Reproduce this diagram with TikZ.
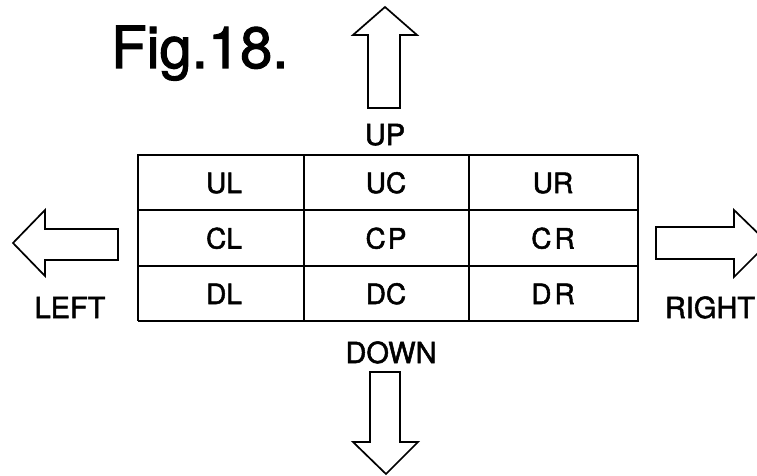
\documentclass[tikz,border=0pt]{standalone}
\usepackage{fontspec}
\setmainfont{TeX Gyre Heros}[FakeBold=1.8]
\begin{document}
\begin{tikzpicture}[x=1pt,y=-1pt,
  blockarrow/.style={draw=black,line width=1.7pt,line join=miter,fill=white},
  grid/.style={draw=black,line width=1.8pt},
  outer/.style={draw=black,line width=2.5pt},
  celltext/.style={font=\fontsize{28}{28}\selectfont,inner sep=0pt,anchor=base},
  dirlabel/.style={font=\fontsize{29}{29}\selectfont,inner sep=0pt,anchor=base}]
\useasboundingbox (0,0) rectangle (757,476);
\clip (0,0) rectangle (757,476);
% title
\node[font=\fontsize{58}{58}\selectfont,inner sep=0pt,anchor=base west] (title) at (111,68) {Fig.18.};
% table
\draw[grid] (138,210) -- (638,210);
\draw[grid] (138,266) -- (638,266);
\draw[grid] (304,155) -- (304,321);
\draw[grid] (469,155) -- (469,321);
\draw[grid,line width=1.5pt] (638,155) -- (138,155) -- (138,321);
\draw[outer] (138,321) -- (638,321) -- (638,155);
% cell texts
\node[celltext] (UL) at (224,193) {UL};
\node[celltext] (UC) at (386,193) {UC};
\node[celltext] (UR) at (553,193) {UR};
\node[celltext] (CL) at (224,248.5) {CL};
\node[celltext] (CP) at (386,248.5) {C\kern2ptP};
\node[celltext] (CR) at (553,248.5) {C\kern3ptR};
\node[celltext] (DL) at (224,304) {DL};
\node[celltext] (DC) at (386,304) {DC};
\node[celltext] (DR) at (553,304) {D\kern3ptR};
% labels
\node[dirlabel] (up) at (385,145) {UP};
\node[dirlabel] (down) at (391,363) {DOWN};
\node[dirlabel] (left) at (70,318) {LEFT};
\node[dirlabel] (right) at (710,318) {RIGHT};
% arrows
\draw[blockarrow] (368,108) -- (368,35) -- (353,35) -- (385,7) -- (417,35) -- (400,35) -- (400,108) -- cycle;
\draw[blockarrow] (370,372) -- (370,442) -- (353,442) -- (386,474) -- (418,442) -- (400,442) -- (400,372) -- cycle;
\draw[blockarrow] (118,229) -- (45,229) -- (45,210) -- (13,243) -- (45,276) -- (45,260) -- (118,260) -- cycle;
\draw[blockarrow] (656,227) -- (734,227) -- (734,210) -- (768,243) -- (734,277) -- (734,259) -- (656,259) -- cycle;
\end{tikzpicture}
\end{document}
